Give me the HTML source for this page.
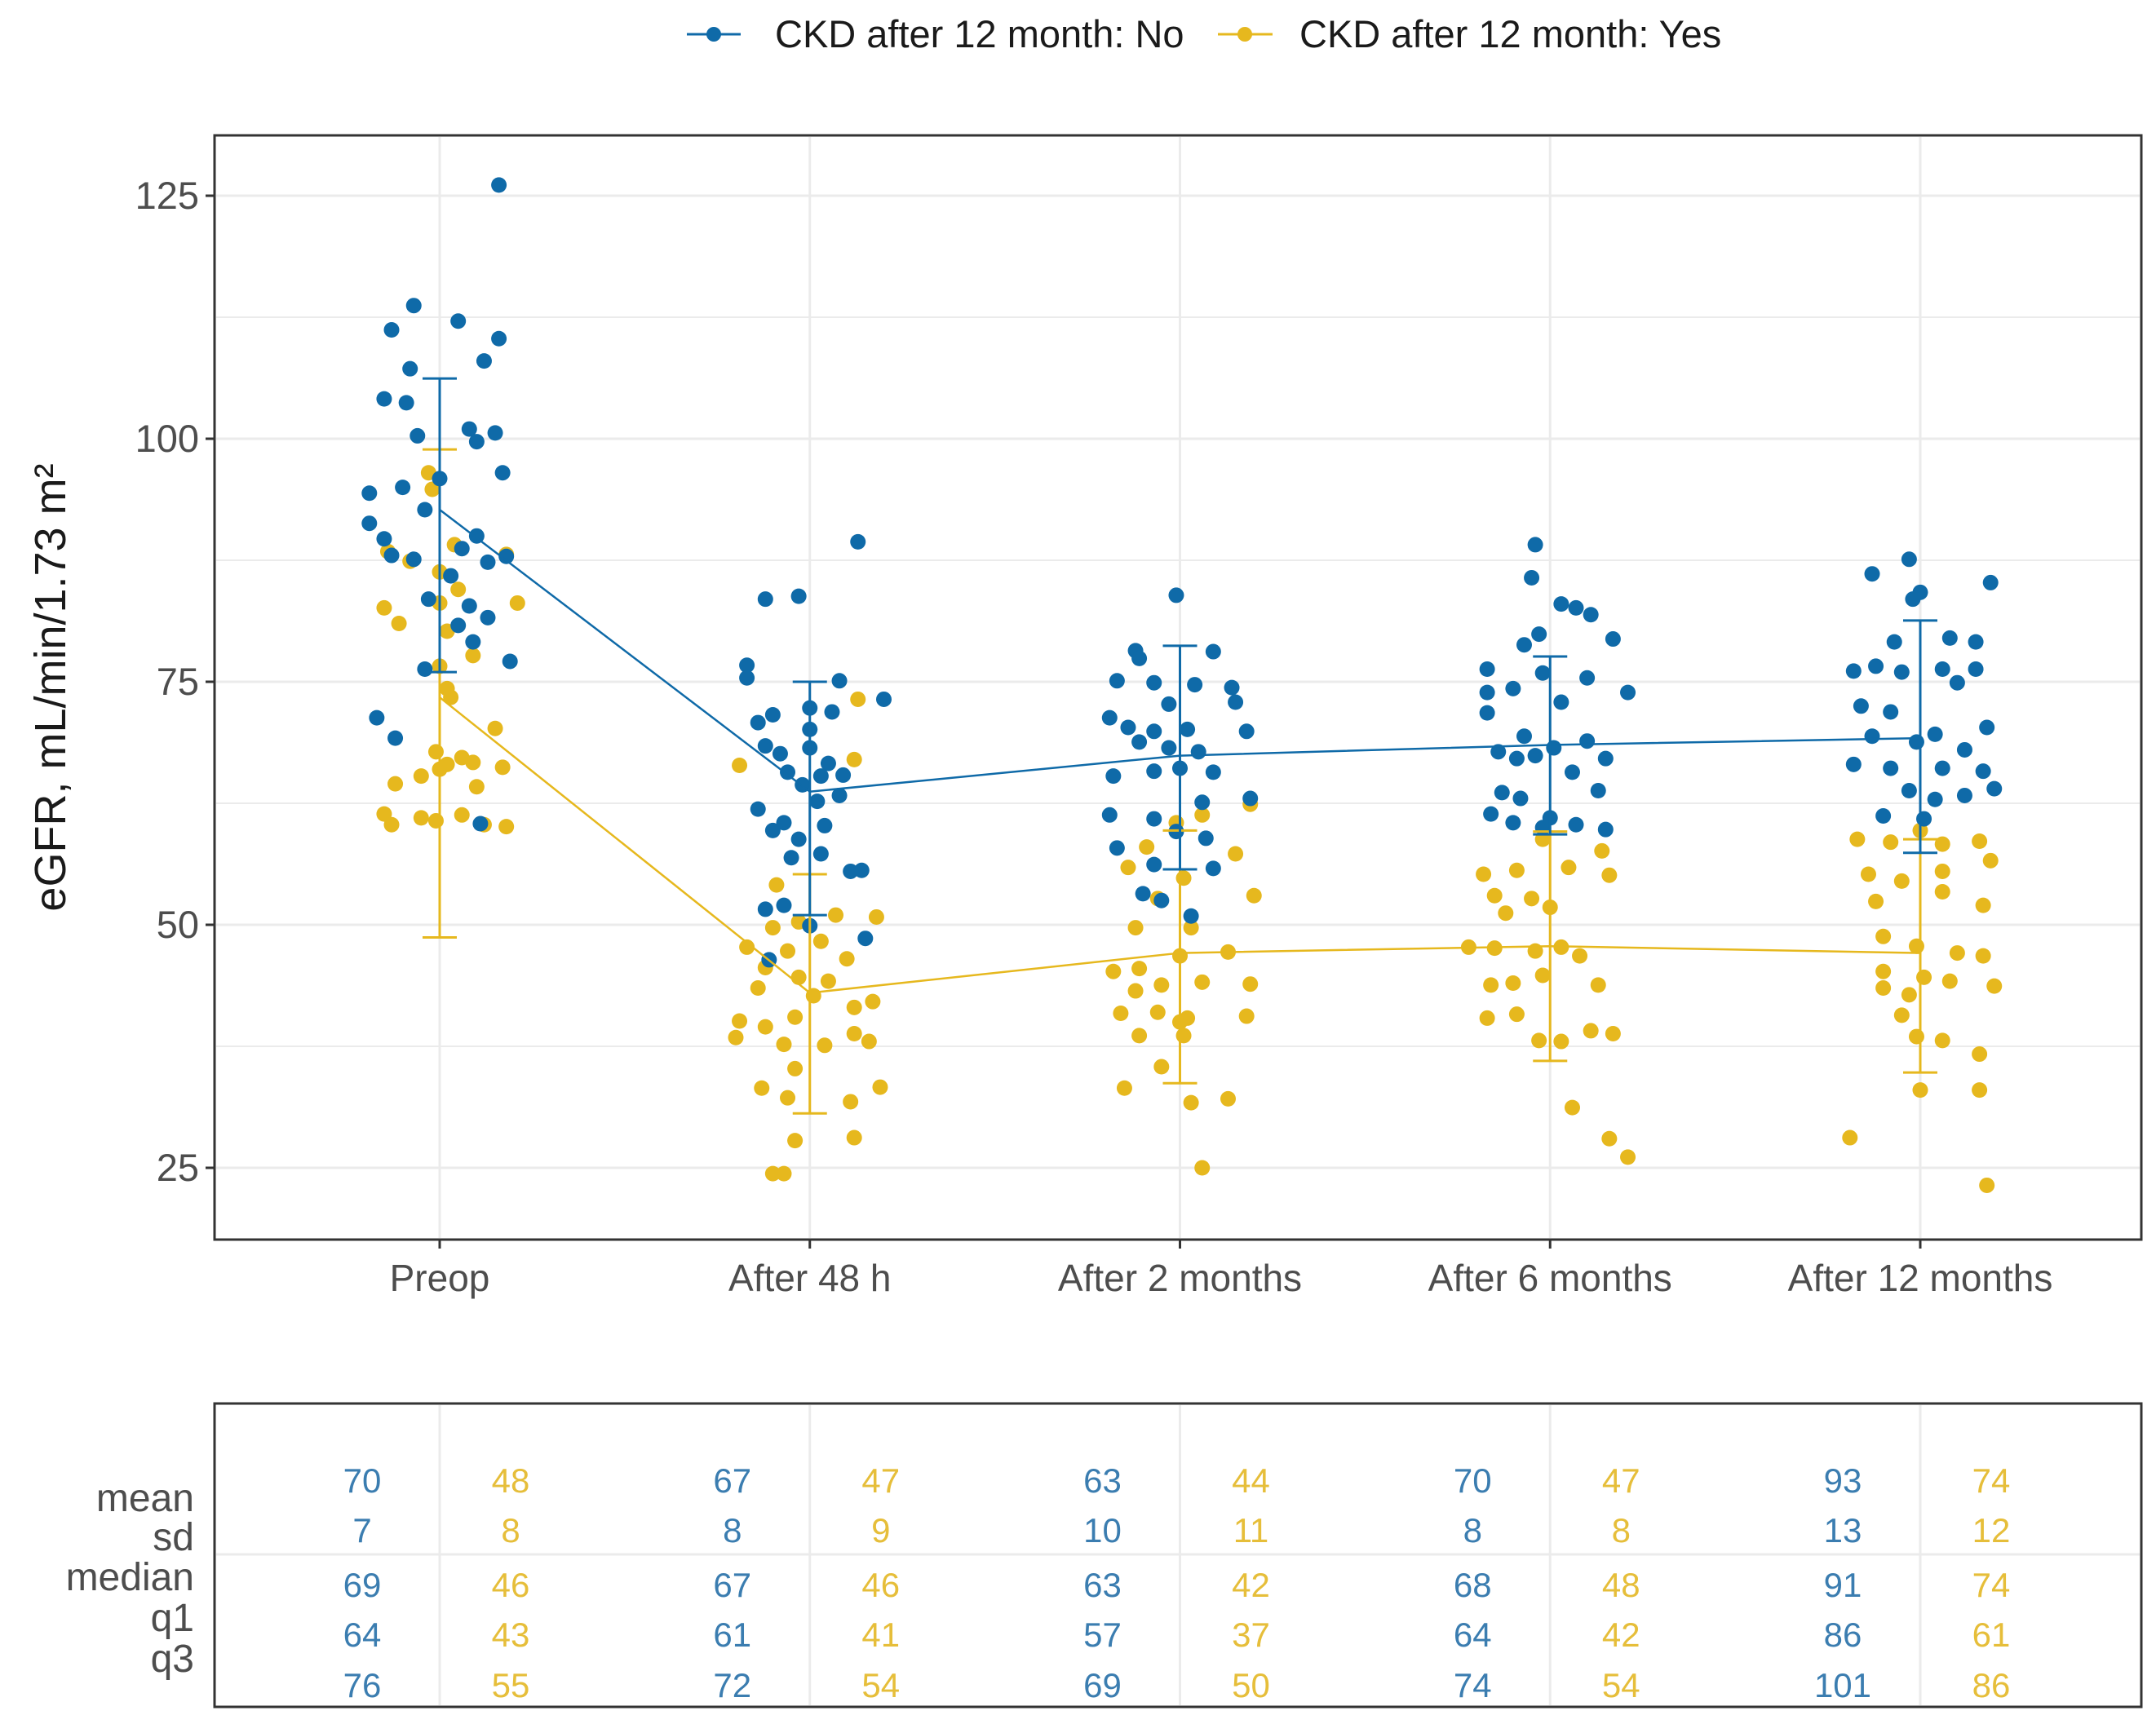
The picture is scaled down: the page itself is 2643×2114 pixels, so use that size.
<!DOCTYPE html>
<html><head><meta charset="utf-8"><style>
html,body{margin:0;padding:0;background:#fff;}
svg{display:block;font-family:"Liberation Sans",Arial,sans-serif;}
</style></head><body>
<svg id="chart" width="2643" height="2114" viewBox="0 0 2643 2114" xmlns="http://www.w3.org/2000/svg">
<g id="legend">
  <g>
    <line x1="842" y1="42" x2="908" y2="42" stroke="#0F6AA8" stroke-width="3"/>
    <circle cx="875" cy="42" r="9" fill="#0F6AA8"/>
    <text x="950" y="58" font-size="47" fill="#1a1a1a">CKD after 12 month: No</text>
  </g>
  <g>
    <line x1="1493" y1="42" x2="1560" y2="42" stroke="#E6B81E" stroke-width="3"/>
    <circle cx="1526" cy="42" r="9" fill="#E6B81E"/>
    <text x="1593" y="58" font-size="47" fill="#1a1a1a">CKD after 12 month: Yes</text>
  </g>
</g>
<g id="grid"></g>
<g id="marks"></g>
<rect x="263" y="166" width="2362" height="1354" fill="none" stroke="#333" stroke-width="3"/>
<g id="axes"></g>
<text transform="translate(80,843) rotate(-90)" text-anchor="middle" font-size="54" fill="#1a1a1a">eGFR, mL/min/1.73 m²</text>
<g id="table"></g>
<rect x="263" y="1721" width="2362" height="372" fill="none" stroke="#333" stroke-width="3"/>
</svg>
<script>
const categories = ["Preop","After 48 h","After 2 months","After 6 months","After 12 months"];
const yTicks = [25,50,75,100,125];
const meanNo  = [92.7,63.7,67.4,68.5,69.2];
const lowNo   = [76,51,55.7,59.3,57.4];
const highNo  = [106.2,75,78.7,77.6,81.3];
const meanYes = [73.4,43,47.1,47.8,47.1];
const lowYes  = [48.7,30.6,33.7,36,34.8];
const highYes = [98.9,55.2,59.7,59.6,58.8];
// points: [category index, value, jitter]
const ptsNo = [
[0,126.1,.16],[0,113.7,-.07],[0,111.2,-.13],[0,112.1,.05],[0,110.3,.16],[0,108,.12],[0,107.2,-.08],[0,104.1,-.15],[0,103.7,-.09],[0,100.3,-.06],[0,101,.08],[0,99.7,.10],[0,100.6,.15],[0,96.5,.17],[0,95,-.10],[0,94.4,-.19],[0,95.9,0],[0,92.7,-.04],[0,91.3,-.19],[0,89.7,-.15],[0,88,-.13],[0,90,.10],[0,88.7,.06],[0,87.3,.13],[0,87.6,-.07],[0,85.9,.03],[0,83.5,-.03],[0,82.8,.08],[0,87.9,.18],[0,81.6,.13],[0,80.8,.05],[0,79.1,.09],[0,76.3,-.04],[0,77.1,.19],[0,71.3,-.17],[0,69.2,-.12],[0,60.4,.11],
[1,89.4,.13],[1,83.5,-.12],[1,83.8,-.03],[1,76.7,-.17],[1,75.4,-.17],[1,73.2,.2],[1,75.1,.08],[1,71.9,.06],[1,72.3,0],[1,71.6,-.10],[1,70.8,-.14],[1,68.4,-.12],[1,70.1,0],[1,68.2,0],[1,67.6,-.08],[1,66.6,.05],[1,65.7,-.06],[1,65.3,.03],[1,65.4,.09],[1,64.4,-.02],[1,61.9,-.14],[1,59.7,-.10],[1,62.7,.02],[1,63.3,.08],[1,60.5,-.07],[1,58.8,-.03],[1,60.2,.04],[1,56.9,-.05],[1,57.3,.03],[1,55.6,.14],[1,55.5,.11],[1,52,-.07],[1,51.6,-.12],[1,49.9,0],[1,46.4,-.11],[1,48.6,.15],
[2,83.9,-.01],[2,78.2,-.12],[2,77.4,-.11],[2,78.1,.09],[2,75.1,-.17],[2,74.9,-.07],[2,74.7,.04],[2,74.4,.14],[2,72.9,.15],[2,72.7,-.03],[2,71.3,-.19],[2,70.3,-.14],[2,69.9,-.07],[2,70.1,.02],[2,69.9,.18],[2,68.8,-.11],[2,68.2,-.03],[2,67.8,.05],[2,65.3,-.18],[2,65.8,-.07],[2,66.1,0],[2,65.7,.09],[2,63,.19],[2,62.6,.06],[2,61.3,-.19],[2,60.9,-.07],[2,59.6,-.01],[2,58.9,.07],[2,57.9,-.17],[2,56.2,-.07],[2,55.8,.09],[2,53.2,-.10],[2,52.5,-.05],[2,50.9,.03],
[3,89.1,-.04],[3,85.7,-.05],[3,83,.03],[3,82.6,.07],[3,81.9,.11],[3,79.4,.17],[3,79.9,-.03],[3,78.8,-.07],[3,76.3,-.17],[3,75.9,-.02],[3,75.4,.10],[3,73.9,.21],[3,73.9,-.17],[3,74.3,-.10],[3,71.8,-.17],[3,72.9,.03],[3,69.4,-.07],[3,68.2,.01],[3,68.9,.10],[3,67.8,-.14],[3,67.1,-.09],[3,67.4,-.04],[3,67.1,.15],[3,65.7,.06],[3,63.6,-.13],[3,63,-.08],[3,63.8,.13],[3,61.4,-.16],[3,60.5,-.10],[3,61,0],[3,60.3,.07],[3,59.8,.15],[3,60,-.02],
[4,86.1,-.13],[4,87.6,-.03],[4,84.2,0],[4,85.2,.19],[4,83.5,-.02],[4,76.1,-.18],[4,76.6,-.12],[4,76,-.05],[4,76.3,.06],[4,76.3,.15],[4,72.5,-.16],[4,71.9,-.08],[4,74.9,.10],[4,70.3,.18],[4,69.6,.04],[4,69.4,-.13],[4,68.8,-.01],[4,68,.12],[4,66.5,-.18],[4,66.1,-.08],[4,66.1,.06],[4,65.8,.17],[4,63.8,-.03],[4,62.9,.04],[4,63.3,.12],[4,64,.20],[4,61.2,-.10],[4,60.9,.01],[4,79.1,-.07],[4,79.5,.08],[4,79.1,.15]
];
const ptsYes = [
[0,96.5,-.03],[0,94.8,-.02],[0,89.1,.04],[0,88.1,.18],[0,87.4,-.08],[0,88.4,-.14],[0,86.3,0],[0,84.5,.05],[0,83.1,0],[0,82.6,-.15],[0,83.1,.21],[0,81,-.11],[0,80.2,.02],[0,77.7,.09],[0,76.6,0],[0,74.3,.02],[0,73.4,.03],[0,70.2,.15],[0,67.8,-.01],[0,67.2,.06],[0,66.7,.09],[0,64.5,-.12],[0,65.3,-.05],[0,66,0],[0,64.2,.10],[0,66.2,.17],[0,61.4,-.15],[0,60.3,-.13],[0,61,-.05],[0,60.7,-.01],[0,61.3,.06],[0,60.3,.12],[0,60.1,.18],[0,66.5,.02],
[1,73.2,.13],[1,66.4,-.19],[1,67,.12],[1,54.1,-.09],[1,49.7,-.10],[1,50.3,-.03],[1,51,.07],[1,50.8,.18],[1,47.7,-.17],[1,47.3,-.06],[1,48.3,.03],[1,46.5,.10],[1,45.6,-.12],[1,44.6,-.03],[1,44.2,.05],[1,43.5,-.14],[1,42.7,.01],[1,40.1,-.19],[1,39.5,-.12],[1,40.5,-.04],[1,41.5,.12],[1,42.1,.17],[1,38.4,-.20],[1,37.7,-.07],[1,37.6,.04],[1,38.8,.12],[1,38,.16],[1,35.2,-.04],[1,33.2,-.13],[1,33.3,.19],[1,32.2,-.06],[1,31.8,.11],[1,27.8,-.04],[1,28.1,.12],[1,24.4,-.10],[1,24.4,-.07],
[2,62.4,.19],[2,60.5,-.01],[2,61.3,.06],[2,57.3,.15],[2,58,-.09],[2,55.9,-.14],[2,54.8,.01],[2,52.7,-.06],[2,53,.20],[2,49.7,-.12],[2,49.7,.03],[2,45.2,-.18],[2,45.5,-.11],[2,46.8,0],[2,47.2,.13],[2,43.8,-.05],[2,43.2,-.12],[2,44.1,.06],[2,43.9,.19],[2,40.9,-.16],[2,41,-.06],[2,40.4,.02],[2,40.6,.18],[2,38.6,-.11],[2,38.6,.01],[2,35.4,-.05],[2,33.2,-.15],[2,31.7,.03],[2,32.1,.13],[2,25,.06],[2,40,0],
[3,58.8,-.02],[3,57.6,.14],[3,55.2,-.18],[3,55.6,-.09],[3,55.9,.05],[3,55.1,.16],[3,53,-.15],[3,52.7,-.05],[3,51.2,-.12],[3,51.8,0],[3,47.7,-.22],[3,47.6,-.15],[3,47.3,-.04],[3,47.7,.03],[3,46.8,.08],[3,43.8,-.16],[3,44,-.10],[3,43.8,.13],[3,44.8,-.02],[3,40.4,-.17],[3,40.8,-.09],[3,39.1,.11],[3,38.8,.17],[3,38.1,-.03],[3,38,.03],[3,31.2,.06],[3,28,.16],[3,26.1,.21],
[4,59.7,0],[4,58.8,-.17],[4,58.5,-.08],[4,58.3,.06],[4,58.6,.16],[4,55.2,-.14],[4,54.5,-.05],[4,55.5,.06],[4,56.6,.19],[4,52.4,-.12],[4,53.4,.06],[4,52,.17],[4,48.8,-.10],[4,47.8,-.01],[4,47.1,.10],[4,46.8,.17],[4,45.2,-.10],[4,44.6,.01],[4,44.2,.08],[4,43.7,.20],[4,43.5,-.10],[4,42.8,-.03],[4,40.7,-.05],[4,38.5,-.01],[4,38.1,.06],[4,36.7,.16],[4,28.1,-.19],[4,33,0],[4,33,.16],[4,23.2,.18]
];
const statRows = ["mean","sd","median","q1","q3"];
const tableNo  = [["70","7","69","64","76"],["67","8","67","61","72"],["63","10","63","57","69"],["70","8","68","64","74"],["93","13","91","86","101"]];
const tableYes = [["48","8","46","43","55"],["47","9","46","41","54"],["44","11","42","37","50"],["47","8","48","42","54"],["74","12","74","61","86"]];

const BLUE="#0F6AA8", YEL="#E6B81E";
const NS="http://www.w3.org/2000/svg";
const X0=539, DX=453.75, Y100=538, PXU=11.92;
function xs(i){return X0+i*DX;}
function ys(v){return Y100-(v-100)*PXU;}
function mk(tag,attrs,parent){const e=document.createElementNS(NS,tag);for(const k in attrs)e.setAttribute(k,attrs[k]);parent.appendChild(e);return e;}
const grid=document.getElementById('grid'), marks=document.getElementById('marks'), axes=document.getElementById('axes'), table=document.getElementById('table');
for(let v=12.5; v<=137.5; v+=12.5){const y=ys(v); if(y<168||y>1518)continue;
  const g=mk('line',{x1:265,x2:2623,y1:y,y2:y,stroke:'#ebebeb','stroke-width':(v%25===0)?3:2},grid);
  
  }
categories.forEach((c,i)=>{const g=mk('line',{x1:xs(i),x2:xs(i),y1:168,y2:1518,stroke:'#ebebeb','stroke-width':3},grid);
  
  });
yTicks.forEach(v=>{const y=ys(v);
  const t=mk('line',{x1:252,x2:263,y1:y,y2:y,stroke:'#333','stroke-width':3},axes);
  
  
  const l=mk('text',{x:244,y:y+16,'text-anchor':'end','font-size':47,fill:'#4d4d4d'},axes); l.textContent=v;
  
  });
categories.forEach((c,i)=>{const x=xs(i);
  const t=mk('line',{x1:x,x2:x,y1:1520,y2:1531,stroke:'#333','stroke-width':3},axes);
  
  
  const l=mk('text',{x:x,y:1583,'text-anchor':'middle','font-size':46,fill:'#4d4d4d'},axes); l.textContent=c;
  
  });
function drawPts(pts,col,name){pts.forEach(p=>{
  const c=mk('circle',{cx:xs(p[0])+p[2]*DX,cy:ys(p[1]),r:9.5,fill:col},marks);
  
  });}
drawPts(ptsYes,YEL,'point-ckd-yes');
drawPts(ptsNo,BLUE,'point-ckd-no');
function drawSeries(mean,lo,hi,col,name){
  const pl=mk('polyline',{points:mean.map((m,i)=>xs(i)+','+ys(m)).join(' '),fill:'none',stroke:col,'stroke-width':2.5},marks);
  
  
  mean.forEach((m,i)=>{const x=xs(i);
    const g=mk('g',{stroke:col,'stroke-width':3},marks);
    
    
    mk('line',{x1:x,x2:x,y1:ys(hi[i]),y2:ys(lo[i])},g);
    mk('line',{x1:x-21,x2:x+21,y1:ys(hi[i]),y2:ys(hi[i])},g);
    mk('line',{x1:x-21,x2:x+21,y1:ys(lo[i]),y2:ys(lo[i])},g);});
}
drawSeries(meanYes,lowYes,highYes,YEL,'ckd-yes');
drawSeries(meanNo,lowNo,highNo,BLUE,'ckd-no');
const rowLabelY=[1853,1901,1950,2000,2050];
const rowValY=[1830,1891,1958,2019,2081];
const tl=mk('line',{x1:265,x2:2623,y1:1906,y2:1906,stroke:'#ebebeb','stroke-width':3},table);


categories.forEach((c,i)=>{const v=mk('line',{x1:xs(i),x2:xs(i),y1:1723,y2:2091,stroke:'#ebebeb','stroke-width':3},table);
  
  });
statRows.forEach((r,j)=>{const t=mk('text',{x:238,y:rowLabelY[j],'text-anchor':'end','font-size':48,fill:'#4d4d4d'},table);t.textContent=r;
  
  });
categories.forEach((c,i)=>{statRows.forEach((r,j)=>{
  const a=mk('text',{x:xs(i)-95,y:rowValY[j],'text-anchor':'middle','font-size':42,fill:'#3b7db0'},table);a.textContent=tableNo[i][j];
  
  
  const b=mk('text',{x:xs(i)+87,y:rowValY[j],'text-anchor':'middle','font-size':42,fill:'#e6be3a'},table);b.textContent=tableYes[i][j];
  
  });});
</script>
</body></html>
